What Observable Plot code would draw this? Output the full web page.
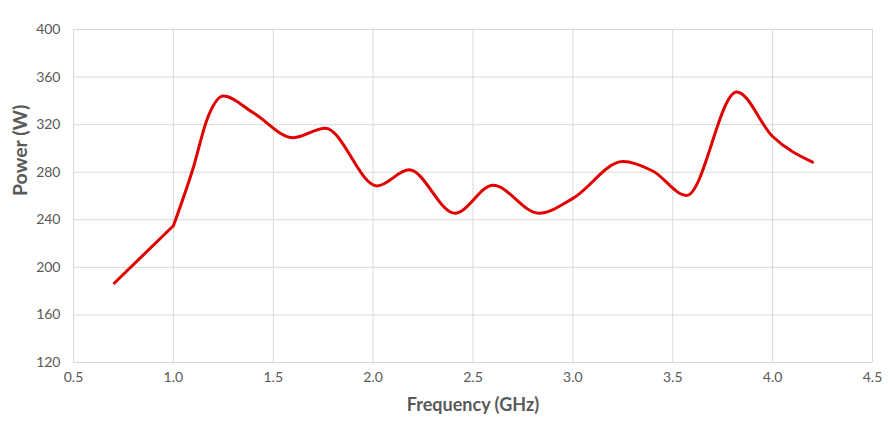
<!DOCTYPE html>
<html>
<head>
<meta charset="utf-8">
<script src="https://cdn.jsdelivr.net/npm/d3@7"></script>
<script src="https://cdn.jsdelivr.net/npm/@observablehq/plot@0.6"></script>
<style>
  html, body { margin: 0; padding: 0; background: #fff; }
  #chart svg { display: block; }
</style>
</head>
<body>
<div id="chart"></div>
<script>
const frequency = [0.7, 1.0, 1.1, 1.17, 1.25, 1.4, 1.6, 1.76, 2.02, 2.18, 2.41, 2.6, 2.83, 3.0, 3.25, 3.4, 3.57, 3.82, 4.0, 4.2];
const power = [186, 235, 284, 325, 344, 330, 309, 317, 268.5, 282, 245.5, 269, 245.5, 258, 289, 281, 260.5, 347.5, 310, 288.5];
const xTicks = [0.5, 1.0, 1.5, 2.0, 2.5, 3.0, 3.5, 4.0, 4.5];
const yTicks = [120, 160, 200, 240, 280, 320, 360, 400];
const xTitle = "Frequency (GHz)";
const yTitle = "Power (W)";

const data = frequency.map((f, i) => ({f, p: power[i]}));
// first segment (0.7 → 1.0) is straight in the reference; the rest is smoothed
const straightPart = data.filter(d => d.f <= 1.0);
const smoothPart = data.filter(d => d.f >= 1.0);
const font = "Lato, 'Open Sans', sans-serif";
const grid = "#d9d9d9";
const red = "#e00000";

const chart = Plot.plot({
  width: 890,
  height: 428,
  marginLeft: 73,
  marginRight: 18,
  marginTop: 29,
  marginBottom: 66,
  style: {fontFamily: font, background: "#fff", overflow: "visible"},
  x: {domain: [0.5, 4.5], ticks: xTicks, tickFormat: d3.format(".1f")},
  y: {domain: [120, 400], ticks: yTicks},
  marks: [
    Plot.ruleX(xTicks, {stroke: grid, strokeWidth: 1}),
    Plot.ruleY(yTicks, {stroke: grid, strokeWidth: 1}),
    Plot.axisX({ticks: xTicks, tickFormat: d3.format(".1f"), tickSize: 0, tickPadding: 10, fontSize: 14, fill: "#595959", label: null}),
    Plot.axisY({ticks: yTicks, tickSize: 0, tickPadding: 13, fontSize: 14, fill: "#595959", label: null}),
    Plot.line(straightPart, {x: "f", y: "p", stroke: red, strokeWidth: 3, curve: "linear", strokeLinejoin: "round", strokeLinecap: "butt"}),
    Plot.line(smoothPart, {x: "f", y: "p", stroke: red, strokeWidth: 3, curve: "monotone-x", strokeLinejoin: "round", strokeLinecap: "round"}),
    Plot.text([xTitle], {frameAnchor: "bottom", dy: 48, fontSize: 18, fontWeight: "bold", fill: "#595959", fontFamily: font}),
    Plot.text([yTitle], {frameAnchor: "left", dx: -53, rotate: -90, fontSize: 19.5, fontWeight: "bold", fill: "#595959", fontFamily: font})
  ]
});
document.getElementById("chart").appendChild(chart);
</script>
</body>
</html>
